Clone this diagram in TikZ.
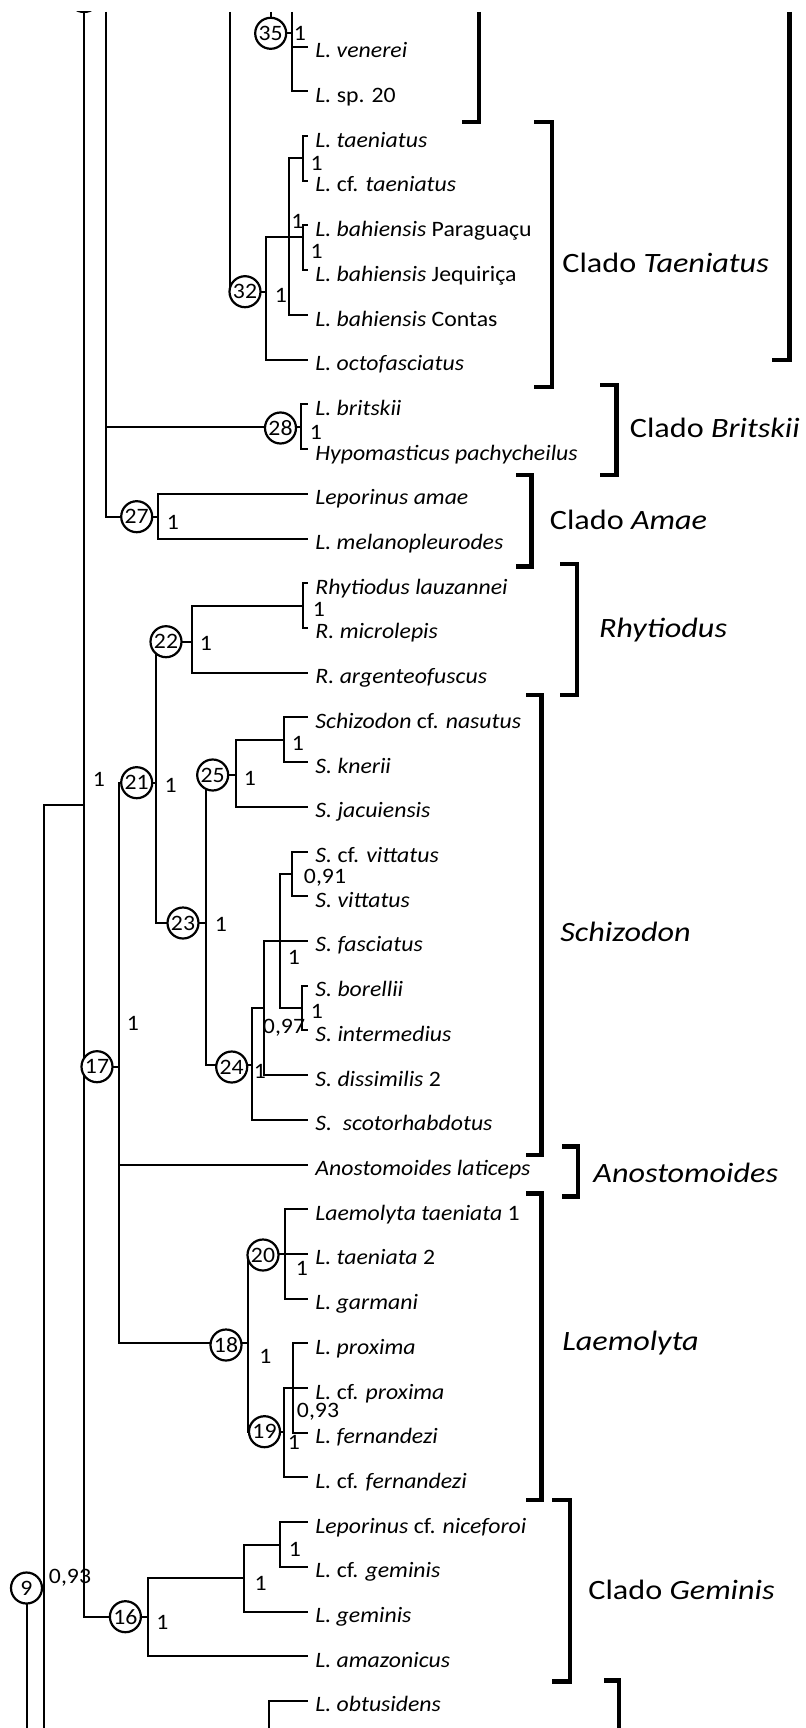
\documentclass[tikz,border=0pt]{standalone}
\usepackage{fontspec}
\setmainfont{Carlito}[FakeStretch=1.08]
\newfontfamily\cladefam{Carlito}[FakeStretch=1.15]
\newcommand\leaffont{\fontsize{11}{13}\selectfont}
\newcommand\cladefont{\cladefam\fontsize{14}{17}\selectfont}
\begin{document}
\begin{tikzpicture}[x=0.5pt,y=-0.5pt,
  branch/.style={line width=1pt},
  bracket/.style={line width=2.4pt},
  nodecirc/.style={circle, draw, line width=1.1pt, fill=white, minimum size=15.5pt, inner sep=0pt, font=\leaffont},
  leaf/.style={anchor=base west, inner sep=0pt, font=\leaffont},
  sup/.style={inner sep=0pt, font=\leaffont},
  clade/.style={anchor=west, inner sep=0pt, font=\cladefont}]
\useasboundingbox (0,0) rectangle (805,1728);
\begin{scope}
\clip (0,12) rectangle (805,1728);

% leaf tips and names
\foreach \i/\y/\t in {
  0/46.7/{\textit{L. venerei}},
  1/91.4/{\textit{L.} sp. 20},
  2/136.1/{\textit{L. taeniatus}},
  3/180.8/{\textit{L.} cf. \textit{taeniatus}},
  4/225.5/{\textit{L. bahiensis} Paraguaçu},
  5/270.3/{\textit{L. bahiensis} Jequiriça},
  6/315.0/{\textit{L. bahiensis} Contas},
  7/359.7/{\textit{L. octofasciatus}},
  8/404.4/{\textit{L. britskii}},
  9/449.1/{\textit{Hypomasticus pachycheilus}},
  10/493.8/{\textit{Leporinus amae}},
  11/538.5/{\textit{L. melanopleurodes}},
  12/583.2/{\textit{Rhytiodus lauzannei}},
  13/627.9/{\textit{R. microlepis}},
  14/672.6/{\textit{R. argenteofuscus}},
  15/717.4/{\textit{Schizodon} cf. \textit{nasutus}},
  16/762.1/{\textit{S. knerii}},
  17/806.8/{\textit{S. jacuiensis}},
  18/851.5/{\textit{S.} cf. \textit{vittatus}},
  19/896.2/{\textit{S. vittatus}},
  20/940.9/{\textit{S. fasciatus}},
  21/985.6/{\textit{S. borellii}},
  22/1030.3/{\textit{S. intermedius}},
  23/1075.0/{\textit{S. dissimilis} 2},
  24/1119.7/{\textit{S.~~scotorhabdotus}},
  25/1164.5/{\textit{Anostomoides laticeps}},
  26/1209.2/{\textit{Laemolyta taeniata} 1},
  27/1253.9/{\textit{L. taeniata} 2},
  28/1298.6/{\textit{L. garmani}},
  29/1343.3/{\textit{L. proxima}},
  30/1388.0/{\textit{L.} cf. \textit{proxima}},
  31/1432.7/{\textit{L. fernandezi}},
  32/1477.4/{\textit{L.} cf. \textit{fernandezi}},
  33/1522.1/{\textit{Leporinus} cf. \textit{niceforoi}},
  34/1566.8/{\textit{L.} cf. \textit{geminis}},
  35/1611.5/{\textit{L. geminis}},
  36/1656.2/{\textit{L. amazonicus}},
  37/1700.9/{\textit{L. obtusidens}}} {
  \coordinate (t\i) at (308,\y);
  \node[leaf] (L\i) at (315,\y+11) {\t};
}

% internal nodes: (vertical line x, stem y)
\coordinate (v271) at (271,12);
\coordinate (v35top) at (291.5,12);
\coordinate (n35) at (291.5,33.3);
\coordinate (v229) at (229.5,12);
\coordinate (n32) at (265.5,291.7);
\coordinate (n289) at (289.3,237);
\coordinate (nTae) at (302.7,158.4);
\coordinate (nBah) at (302.7,237);
\coordinate (v106) at (105.5,12);
\coordinate (n28) at (301,426.7);
\coordinate (n27) at (158.4,516.7);
\coordinate (v84) at (84,12);
\coordinate (n84) at (84,805.3);
\coordinate (n44) at (44,1588);
\coordinate (b44) at (44,1728);
\coordinate (n9) at (27,1588);
\coordinate (b9) at (27,1728);
\coordinate (n17) at (118.7,1066.7);
\coordinate (n16) at (148,1616.7);
\coordinate (n21) at (156,782.7);
\coordinate (n18) at (248.3,1343.3);
\coordinate (n22) at (192,641.7);
\coordinate (n23) at (206,923);
\coordinate (nRhy) at (303,605.5);
\coordinate (n25) at (236,775);
\coordinate (n24) at (252,1064.5);
\coordinate (nSch) at (284,739.7);
\coordinate (n264) at (264,1008);
\coordinate (n280) at (280,940.9);
\coordinate (nVit) at (292,873.9);
\coordinate (nBor) at (302,1008);
\coordinate (n20) at (285.3,1253.9);
\coordinate (n19) at (284.3,1431.7);
\coordinate (n293) at (293.3,1388);
\coordinate (n244) at (244,1577.7);
\coordinate (nGem) at (280,1544.5);
\coordinate (v269) at (269.3,1728);

% branches
\begin{scope}[branch]
\draw (v271) |- (n35);
\draw (v35top) -- (n35);
\draw (n35) |- (t0);
\draw (n35) |- (t1);
\draw (v229) |- (n32);
\draw (n32) |- (n289);
\draw (n32) |- (t7);
\draw (n289) |- (nTae);
\draw (n289) -- (nBah);
\draw (n289) |- (t6);
\draw (nTae) |- (t2);
\draw (nTae) |- (t3);
\draw (nBah) |- (t4);
\draw (nBah) |- (t5);
\draw (v106) |- (n28);
\draw (v106) |- (n27);
\draw (n28) |- (t8);
\draw (n28) |- (t9);
\draw (n27) |- (t10);
\draw (n27) |- (t11);
\draw (n84) -- (v84);
\draw (n44) |- (n84);
\draw (n44) -- (b44);
\draw (n9) -- (n44);
\draw (n9) -- (b9);
\draw (n84) |- (n17);
\draw (n84) |- (n16);
\draw (n17) |- (n21);
\draw (n17) |- (t25);
\draw (n17) |- (n18);
\draw (n21) |- (n22);
\draw (n21) |- (n23);
\draw (n22) |- (nRhy);
\draw (n22) |- (t14);
\draw (nRhy) |- (t12);
\draw (nRhy) |- (t13);
\draw (n23) |- (n25);
\draw (n23) |- (n24);
\draw (n25) |- (nSch);
\draw (n25) |- (t17);
\draw (nSch) |- (t15);
\draw (nSch) |- (t16);
\draw (n24) |- (n264);
\draw (n24) |- (t24);
\draw (n264) |- (t20);
\draw (n264) |- (t23);
\draw (n280) |- (nVit);
\draw (n280) |- (nBor);
\draw (nVit) |- (t18);
\draw (nVit) |- (t19);
\draw (nBor) |- (t21);
\draw (nBor) |- (t22);
\draw (n18) |- (n20);
\draw (n18) |- (n19);
\draw (n20) |- (t26);
\draw (n20) |- (t27);
\draw (n20) |- (t28);
\draw (n19) |- (t30);
\draw (n19) |- (t32);
\draw (n293) |- (t29);
\draw (n293) |- (t31);
\draw (n16) |- (n244);
\draw (n16) |- (t36);
\draw (n244) |- (nGem);
\draw (n244) |- (t35);
\draw (nGem) |- (t33);
\draw (nGem) |- (t34);
\draw (v269) |- (t37);
\end{scope}

% numbered node circles
\node[nodecirc] (cTop) at (84,-3.5) {};
\node[nodecirc] (c35) at (270.7,33.3) {35};
\node[nodecirc] (c32) at (245,291.7) {32};
\node[nodecirc] (c28) at (280.5,428) {28};
\node[nodecirc] (c27) at (136.7,516.7) {27};
\node[nodecirc] (c22) at (166,641.7) {22};
\node[nodecirc] (c21) at (136.7,782.7) {21};
\node[nodecirc] (c25) at (212.7,775) {25};
\node[nodecirc] (c23) at (183,923) {23};
\node[nodecirc] (c24) at (231.7,1067) {24};
\node[nodecirc] (c17) at (97,1066.7) {17};
\node[nodecirc] (c20) at (263,1255) {20};
\node[nodecirc] (c18) at (226,1345) {18};
\node[nodecirc] (c19) at (264.5,1431.7) {19};
\node[nodecirc] (c16) at (125.4,1616.7) {16};
\node[nodecirc] (c9) at (26.5,1588) {9};

% support values
\node[sup] (s35) at (300,33) {1};
\node[sup] (sTae) at (316.7,163.3) {1};
\node[sup] (s289) at (297.3,221.7) {1};
\node[sup] (sBah) at (316.7,251.7) {1};
\node[sup] (s32) at (281,295) {1};
\node[sup] (s28) at (316,432) {1};
\node[sup] (s27) at (173,522) {1};
\node[sup] (sRhy) at (319,609) {1};
\node[sup] (s22) at (206,643) {1};
\node[sup] (s84) at (99,779) {1};
\node[sup] (s21) at (170.7,785) {1};
\node[sup] (sSch) at (298,743) {1};
\node[sup] (s25) at (250,778) {1};
\node[sup] (sVit) at (325,878) {0,91};
\node[sup] (s23) at (221,924) {1};
\node[sup] (s280) at (294,957) {1};
\node[sup] (sBor) at (317,1011.7) {1};
\node[sup] (s264) at (284,1028) {0,97};
\node[sup] (s24) at (260,1071.7) {1};
\node[sup] (s17) at (133,1023) {1};
\node[sup] (s20) at (302,1268) {1};
\node[sup] (s18) at (265.5,1356.7) {1};
\node[sup] (s293) at (318,1411.7) {0,93};
\node[sup] (s19) at (294,1442) {1};
\node[sup] (s44) at (70,1578) {0,93};
\node[sup] (s16) at (162.5,1622.7) {1};
\node[sup] (s244) at (260.6,1583) {1};
\node[sup] (sGem) at (295,1549) {1};

% clade brackets
\begin{scope}[bracket]
\draw (479,12) |- (462,122);
\draw (534,122) -- (552,122) -- (552,387) -- (534,387);
\draw (789.5,12) |- (772,360);
\draw (600,385) -- (616.6,385) -- (616.6,475) -- (600,475);
\draw (516,475) -- (531.5,475) -- (531.5,566.7) -- (516,566.7);
\draw (560,564) -- (577,564) -- (577,695) -- (560,695);
\draw (526,695) -- (541.8,695) -- (541.8,1155) -- (526,1155);
\draw (562,1146.7) -- (578,1146.7) -- (578,1196.7) -- (562,1196.7);
\draw (526,1193.3) -- (541.8,1193.3) -- (541.8,1500) -- (526,1500);
\draw (552,1500) -- (570,1500) -- (570,1681.7) -- (552,1681.7);
\draw (604,1680.7) -| (619,1728);
\end{scope}

% clade names
\node[clade] (kTae) at (562,263) {Clado \textit{Taeniatus}};
\node[clade] (kBri) at (629.5,428) {Clado \textit{Britskii}};
\node[clade] (kAma) at (549.5,520) {Clado \textit{Amae}};
\node[clade] (kRhy) at (598.6,630) {\textit{Rhytiodus}};
\node[clade] (kSch) at (560,931.7) {\textit{Schizodon}};
\node[clade] (kAno) at (593,1173) {\textit{Anostomoides}};
\node[clade] (kLae) at (562,1343) {\textit{Laemolyta}};
\node[clade] (kGem) at (588,1590) {Clado \textit{Geminis}};
\end{scope}
\end{tikzpicture}
\end{document}
